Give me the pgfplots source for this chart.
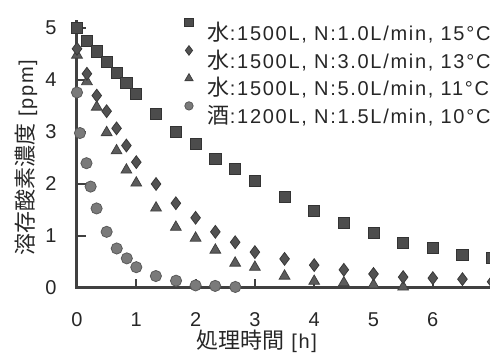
\documentclass[border=0pt]{standalone}
\usepackage{fontspec}
\setmainfont{Liberation Sans}[LetterSpace=8.5]
\newfontfamily\cjk{Noto Sans CJK JP}
\usepackage{pgfplots}
\pgfplotsset{compat=1.18}
\newcommand{\cj}[1]{{\cjk\fontsize{11pt}{13pt}\selectfont #1}}
\pgfplotsset{
  leg/.style={legend image code/.code={\path[draw=none,fill=none] (-4pt,0pt) rectangle (9.5pt,8pt);
      \draw[##1,/tikz/every mark/.append style={scale=0.75}] plot coordinates {(0pt,5.8pt)};}},
  sq/.style={only marks, mark=square*, mark size=2.8pt, mark options={fill=black!70, draw=black!80, line width=0.4pt}, leg},
  dia/.style={only marks, mark=diamond*, mark size=3.2pt, mark options={fill=black!68, draw=black!78, line width=0.4pt}, leg},
  tri/.style={only marks, mark=triangle*, mark size=3.1pt, mark options={fill=black!64, draw=black!75, line width=0.4pt}, leg},
  cir/.style={only marks, mark=*, mark size=2.8pt, mark options={fill=black!52, draw=black!65, line width=0.4pt}, leg},
}
\begin{document}
\begin{tikzpicture}
\begin{axis}[
  at={(0pt,0pt)}, anchor=south west,
  x=29.65pt, y=26pt,
  xmin=0, xmax=7, ymin=0, ymax=5.15,
  clip=false,
  axis x line*=bottom, axis y line*=left,
  axis line style={line width=1.5pt, black!75},
  xtick={0,1,2,3,4,5,6}, ytick={0,1,2,3,4,5},
  tick align=inside, major tick length=4.5pt,
  tick style={line width=0.9pt, black!75},
  /pgf/number format/assume math mode=true,
  every tick label/.append style={font=\fontsize{10pt}{12pt}\selectfont, text=black!85},
  xticklabel style={anchor=north, inner sep=0pt, yshift=-12pt},
  yticklabel style={anchor=east, inner sep=0pt, xshift=-10pt},
  xlabel={\cj{処理時間} [h]},
  ylabel={\cj{溶存酸素濃度} [ppm]},
  xlabel style={at={(axis description cs:0.4324,0)}, anchor=center, yshift=-26.5pt, inner sep=0pt, font=\fontsize{10pt}{12pt}\selectfont, text=black!85},
  ylabel style={at={(axis description cs:0,0.487)}, anchor=center, yshift=25.5pt, inner sep=0pt, font=\fontsize{10pt}{12pt}\selectfont, text=black!85},
  legend cell align=left,
  legend style={draw=none, fill=none, at={(axis description cs:0.2505,1.008)}, anchor=north west,
    inner sep=0pt, outer sep=0pt, row sep=0.8pt,
    nodes={inner sep=0pt, outer sep=0pt, text height=8pt, text depth=2pt, font=\fontsize{10pt}{12pt}\selectfont, text=black!85}},
]
\draw[line width=1.5pt, black!75] (axis cs:0,5.15) -- (axis cs:0,0) -- (axis cs:7,0);
\addplot[tri, forget plot] coordinates {
(0,4.48)(0.167,3.97)(0.333,3.48)(0.5,2.99)(0.667,2.64)(0.833,2.27)(1.0,2.02)
(1.333,1.54)(1.667,1.17)(2.0,0.96)(2.333,0.73)(2.667,0.48)(3.0,0.40)(3.5,0.23)
(4.0,0.13)(4.5,0.10)(5.0,0.06)(5.5,0.02)};
\addplot[sq] coordinates {
(0,5.0)(0.167,4.75)(0.333,4.55)(0.5,4.35)(0.667,4.13)(0.833,3.94)(1.0,3.73)
(1.333,3.35)(1.667,3.0)(2.0,2.77)(2.333,2.48)(2.667,2.29)(3.0,2.06)(3.5,1.75)
(4.0,1.48)(4.5,1.25)(5.0,1.06)(5.5,0.87)(6.0,0.77)(6.5,0.64)(7.0,0.58)};
\addlegendentry{\cj{水}:1500L, N:1.0L/min, 15°C}
\addplot[dia] coordinates {
(0,4.6)(0.167,4.12)(0.333,3.70)(0.5,3.40)(0.667,3.07)(0.833,2.74)(1.0,2.42)
(1.333,2.0)(1.667,1.63)(2.0,1.35)(2.333,1.08)(2.667,0.88)(3.0,0.69)(3.5,0.56)
(4.0,0.44)(4.5,0.35)(5.0,0.27)(5.5,0.21)(6.0,0.19)(6.5,0.17)(7.0,0.12)};
\addlegendentry{\cj{水}:1500L, N:3.0L/min, 13°C}
\addlegendimage{tri}
\addlegendentry{\cj{水}:1500L, N:5.0L/min, 11°C}
\addplot[cir] coordinates {
(0,3.76)(0.05,2.98)(0.16,2.40)(0.23,1.95)(0.33,1.53)(0.5,1.08)(0.67,0.76)
(0.84,0.57)(1.0,0.40)(1.33,0.23)(1.67,0.14)(2.0,0.05)(2.33,0.04)(2.67,0.02)};
\addlegendentry{\cj{酒}:1200L, N:1.5L/min, 10°C}
\end{axis}
\pgfresetboundingbox
\path (-38.5pt,-34pt) rectangle (206.5pt,144pt);
\end{tikzpicture}
\end{document}
